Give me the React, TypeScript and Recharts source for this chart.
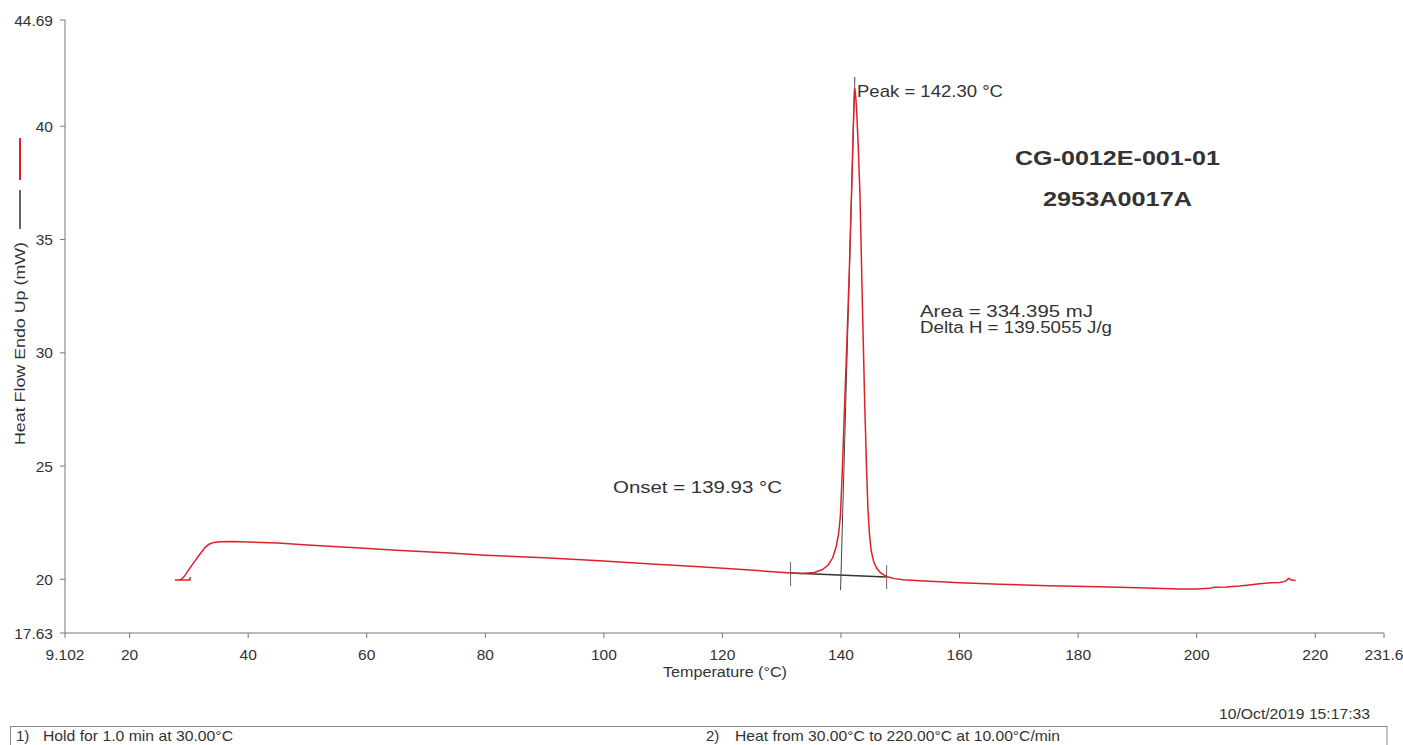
import React from "react";
import {
  LineChart,
  Line,
  XAxis,
  YAxis,
  ReferenceLine,
} from "recharts";

// DSC heating run: temperature (°C) vs heat flow (mW), endotherm up
const temperature = [
  30.2, 30.2, 27.65, 28.3, 28.66, 29.2, 29.8, 30.4, 31.0, 31.6, 32.2, 32.8,
  33.4, 34.2, 35.24, 37.5, 40, 45, 50, 58.85, 65, 74, 80, 90, 99.3, 108, 116.2,
  124, 131.5, 133.5, 135.5, 136.8, 137.8, 138.6, 139.2, 139.6, 139.9, 140.2,
  140.6, 141.0, 141.4, 141.8, 142.05, 142.2, 142.3, 142.42, 142.6, 142.9, 143.2,
  143.6, 144.0, 144.3, 144.55, 144.8, 145.1, 145.5, 146.0, 146.7, 147.7, 149,
  150.5, 153.3, 160, 166.8, 175, 183.6, 190, 197.1, 200, 202.2, 203, 205, 207.2,
  208.5, 210.6, 212, 214, 215, 215.5, 216, 216.7,
];

const heatFlow = [
  20.1, 19.97, 19.97, 19.98, 19.99, 20.12, 20.35, 20.58, 20.8, 21.02, 21.23,
  21.42, 21.55, 21.63, 21.66, 21.67, 21.65, 21.6, 21.52, 21.38, 21.28, 21.16,
  21.06, 20.95, 20.82, 20.68, 20.55, 20.42, 20.28, 20.26, 20.3, 20.42, 20.62,
  20.95, 21.45, 22.0, 22.8, 24.6, 27.6, 30.5, 33.6, 37.2, 39.7, 41.0, 41.69,
  41.5, 40.9, 39.2, 37.0, 32.3, 27.8, 25.0, 23.1, 22.0, 21.25, 20.8, 20.5,
  20.28, 20.12, 20.03, 19.98, 19.94, 19.85, 19.78, 19.72, 19.67, 19.63, 19.57,
  19.57, 19.6, 19.65, 19.66, 19.7, 19.74, 19.8, 19.84, 19.86, 19.92, 20.04,
  19.97, 19.95,
];

const xTicks = [9.102, 20, 40, 60, 80, 100, 120, 140, 160, 180, 200, 220, 231.6];
const yTicks = [17.63, 20, 25, 30, 35, 40, 44.69];

// integration baseline and its markers
const baselineStart = { x: 131.5, y: 20.28 };
const baselineEnd = { x: 147.7, y: 20.1 };
const onset = 139.93;
const peak = 142.3;

const data = temperature.map((t, i) => ({ t, hf: heatFlow[i] }));

const FONT = "'Liberation Sans', Arial, sans-serif";
const RED = "#dd2129";
const INK = "#333";

export default function App() {
  return (
    <div
      style={{
        position: "fixed",
        left: 0,
        top: 0,
        width: 1403,
        height: 745,
        background: "#fff",
        fontFamily: FONT,
        overflow: "hidden",
      }}
    >
      <LineChart
        width={1403}
        height={745}
        data={data}
        margin={{ top: 20, right: 19, bottom: 0, left: 0 }}
      >
        <XAxis
          type="number"
          dataKey="t"
          domain={[9.102, 231.6]}
          ticks={xTicks}
          interval={0}
          height={112}
          allowDataOverflow
          stroke="#777"
          tickSize={5}
          tickMargin={11}
          tick={{ fontSize: 15.5, fill: INK, fontFamily: FONT }}
        />
        <YAxis
          type="number"
          domain={[17.63, 44.69]}
          ticks={yTicks}
          interval={0}
          width={65}
          allowDataOverflow
          stroke="#777"
          tickSize={5}
          tickMargin={7}
          tick={{ fontSize: 15.5, fill: INK, fontFamily: FONT }}
        />
        <ReferenceLine
          segment={[baselineStart, baselineEnd]}
          stroke="#333"
          strokeWidth={1.5}
        />
        <ReferenceLine
          segment={[{ x: baselineStart.x, y: 19.7 }, { x: baselineStart.x, y: 20.76 }]}
          stroke="#666"
        />
        <ReferenceLine
          segment={[{ x: baselineEnd.x, y: 19.57 }, { x: baselineEnd.x, y: 20.63 }]}
          stroke="#666"
        />
        <ReferenceLine
          segment={[{ x: onset, y: 19.52 }, { x: 142.33, y: 42.17 }]}
          stroke="#444"
        />
        <ReferenceLine
          segment={[{ x: peak, y: 41.3 }, { x: peak, y: 42.17 }]}
          stroke="#777"
        />
        <Line
          type="linear"
          dataKey="hf"
          stroke={RED}
          strokeWidth={1.5}
          dot={false}
          isAnimationActive={false}
        />
      </LineChart>

      <svg
        width={1403}
        height={745}
        style={{ position: "absolute", left: 0, top: 0, pointerEvents: "none" }}
        fontFamily={FONT}
        fill={INK}
      >
        {/* axis titles and series key */}
        <text x={663} y={677} fontSize={15.5} textLength={124} lengthAdjust="spacingAndGlyphs">
          Temperature (°C)
        </text>
        <text
          transform="translate(25,445) rotate(-90)"
          fontSize={15.5}
          textLength={203}
          lengthAdjust="spacingAndGlyphs"
        >
          Heat Flow Endo Up (mW)
        </text>
        <line x1={20} y1={190} x2={20} y2={229} stroke="#333" strokeWidth={1.5} />
        <line x1={20} y1={138} x2={20} y2={180} stroke={RED} strokeWidth={2} />

        {/* peak annotations */}
        <text x={857} y={97} fontSize={17} textLength={146} lengthAdjust="spacingAndGlyphs">
          Peak = 142.30 °C
        </text>
        <text x={1015} y={165} fontSize={20} fontWeight="bold" textLength={205} lengthAdjust="spacingAndGlyphs">
          CG-0012E-001-01
        </text>
        <text x={1043} y={206} fontSize={20} fontWeight="bold" textLength={149} lengthAdjust="spacingAndGlyphs">
          2953A0017A
        </text>
        <text x={920} y={317} fontSize={16} textLength={173} lengthAdjust="spacingAndGlyphs">
          Area = 334.395 mJ
        </text>
        <text x={920} y={333} fontSize={16} textLength={192} lengthAdjust="spacingAndGlyphs">
          Delta H = 139.5055 J/g
        </text>
        <text x={613} y={493} fontSize={16.5} textLength={169} lengthAdjust="spacingAndGlyphs">
          Onset = 139.93 °C
        </text>

        {/* run info */}
        <text x={1219} y={719} fontSize={15.5} textLength={151} lengthAdjust="spacingAndGlyphs">
          10/Oct/2019 15:17:33
        </text>
        <rect x={10.5} y={726.5} width={1376.5} height={40} fill="none" stroke="#888" />
        <text x={16} y={741} fontSize={15}>1)</text>
        <text x={43} y={741} fontSize={15} textLength={190} lengthAdjust="spacingAndGlyphs">
          Hold for 1.0 min at 30.00°C
        </text>
        <text x={706} y={741} fontSize={15}>2)</text>
        <text x={735} y={741} fontSize={15} textLength={325} lengthAdjust="spacingAndGlyphs">
          Heat from 30.00°C to 220.00°C at 10.00°C/min
        </text>
      </svg>
    </div>
  );
}
